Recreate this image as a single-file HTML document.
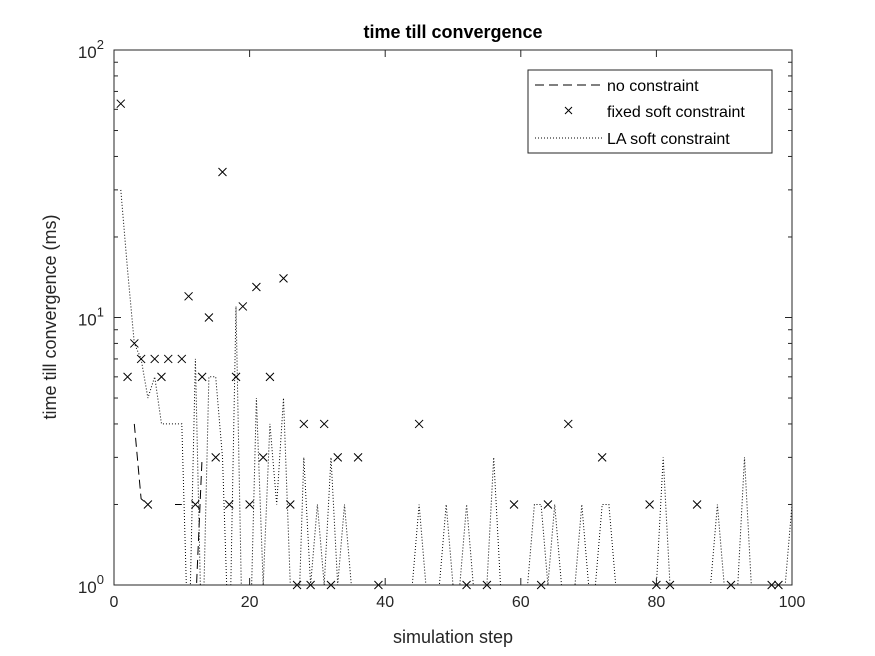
<!DOCTYPE html>
<html><head><meta charset="utf-8"><style>
body{margin:0;background:#fff}
svg{display:block;font-family:"Liberation Sans",Arial,sans-serif}
</style></head><body>
<svg id="chart" width="875" height="656" viewBox="0 0 875 656" xmlns="http://www.w3.org/2000/svg">
<rect x="0" y="0" width="875" height="656" fill="#fff"/>
<rect x="114" y="50" width="678" height="535" fill="#fff"/>
<g id="series"></g>
<g id="axes"></g>
<rect x="114" y="50" width="678" height="535" fill="none" stroke="#262626" stroke-width="1"/>
<text x="453" y="38" text-anchor="middle" font-size="18" font-weight="bold" fill="#000">time till convergence</text>
<text x="453" y="643" text-anchor="middle" font-size="18" fill="#262626">simulation step</text>
<text transform="translate(56,317) rotate(-90)" text-anchor="middle" font-size="18" fill="#262626">time till convergence (ms)</text>
<g>
<rect x="528" y="70" width="244" height="83" fill="#fff" stroke="#262626"/>
<g>
<line x1="535" y1="85" x2="603" y2="85" stroke="#000" stroke-dasharray="9,5"/>
<text x="607" y="91" font-size="16" fill="#000">no constraint</text></g>
<g>
<path d="M565,107 l7,7 M572,107 l-7,7" stroke="#000"/>
<text x="607" y="117" font-size="16" fill="#000">fixed soft constraint</text></g>
<g>
<line x1="535" y1="138" x2="603" y2="138" stroke="#000" stroke-dasharray="1,2"/>
<text x="607" y="144" font-size="16" fill="#000">LA soft constraint</text></g>
</g>
</svg>
<script>
const xTicks=[0,20,40,60,80,100];
const yDecades=[0,1,2];
const fixedSteps=[1,2,3,4,5,6,7,8,10,11,12,13,14,15,16,17,18,19,20,21,22,23,25,26,27,28,29,31,32,33,36,39,45,52,55,59,63,64,67,72,79,80,82,86,91,97,98];
const fixedVals=[63,6,8,7,2,7,6,7,7,12,2,6,10,3,35,2,6,11,2,13,3,6,14,2,1,4,1,4,1,3,3,1,4,1,1,2,1,2,4,3,2,1,1,2,1,1,1];
const noConstraintSteps=[3,4,5,6,9,10,11,12,13];
const noConstraintVals=[4,2.1,2,null,2,2,null,0.8,3];
const laVals=[null,30,15,8,7,5,6,4,4,4,4,0.5,7,0.5,6,6,3,0.5,11,0.5,0.5,5,1,4,2,5,1,0.5,3,1,2,1,3,1,2,1,1,1,1,1,1,1,1,1,1,2,1,1,1,2,1,1,2,1,1,1,3,1,1,1,1,1,2,2,1,2,1,1,1,2,1,1,2,2,1,1,1,1,1,1,1,3,1,1,1,1,1,1,1,2,1,1,1,3,1,1,1,1,1,1,2];

const L=114,R=792,T=50,B=585;
const xS=v=>L+(v-0)/(100-0)*(R-L);
const yS=v=>B-(Math.log10(v)-0)/2*(B-T);
const NS="http://www.w3.org/2000/svg";
const mk=(t,a)=>{const e=document.createElementNS(NS,t);for(const k in a)e.setAttribute(k,a[k]);return e;};
const series=document.getElementById('series'),axes=document.getElementById('axes');
const clip=mk('clipPath',{id:'pc'});clip.appendChild(mk('rect',{x:L,y:T,width:R-L,height:B-T}));
document.getElementById('chart').appendChild(clip);
series.setAttribute('clip-path','url(#pc)');

let d='',pen=false;
laVals.forEach((v,i)=>{if(v==null){pen=false;return;}d+=(pen?'L':'M')+xS(i).toFixed(1)+','+yS(v).toFixed(1);pen=true;});
const la=mk('path',{d:d,fill:'none',stroke:'#000','stroke-width':1,'stroke-dasharray':'1,2'});


series.appendChild(la);

d='';pen=false;
noConstraintSteps.forEach((s,i)=>{const v=noConstraintVals[i];if(v==null){pen=false;return;}d+=(pen?'L':'M')+xS(s).toFixed(1)+','+yS(v).toFixed(1);pen=true;});
const nc=mk('path',{d:d,fill:'none',stroke:'#000','stroke-width':1,'stroke-dasharray':'9,5'});


series.appendChild(nc);

fixedSteps.forEach((s,i)=>{const x=xS(s),y=yS(fixedVals[i]);
const m=mk('path',{d:`M${x-4},${y-4}L${x+4},${y+4}M${x+4},${y-4}L${x-4},${y+4}`,stroke:'#000','stroke-width':1});


axes.appendChild(m);});

xTicks.forEach(t=>{const x=xS(t);
axes.appendChild(mk('line',{x1:x,y1:B,x2:x,y2:B-7,stroke:'#262626'}));
axes.appendChild(mk('line',{x1:x,y1:T,x2:x,y2:T+7,stroke:'#262626'}));
const tx=mk('text',{x:x,y:B+22,'text-anchor':'middle','font-size':16,fill:'#262626'});tx.textContent=t;


axes.appendChild(tx);});

yDecades.forEach(p=>{const y=yS(Math.pow(10,p));
axes.appendChild(mk('line',{x1:L,y1:y,x2:L+7,y2:y,stroke:'#262626'}));
axes.appendChild(mk('line',{x1:R,y1:y,x2:R-7,y2:y,stroke:'#262626'}));
const tx=mk('text',{x:104,y:y+8,'text-anchor':'end','font-size':17,fill:'#262626'});


tx.appendChild(document.createTextNode('10'));
const sp=mk('tspan',{dy:-9,'font-size':13});sp.textContent=p;tx.appendChild(sp);
axes.appendChild(tx);
if(p<2){for(let k=2;k<10;k++){const yy=yS(k*Math.pow(10,p));
axes.appendChild(mk('line',{x1:L,y1:yy,x2:L+4,y2:yy,stroke:'#262626'}));
axes.appendChild(mk('line',{x1:R,y1:yy,x2:R-4,y2:yy,stroke:'#262626'}));}}
});
</script>
</body></html>
